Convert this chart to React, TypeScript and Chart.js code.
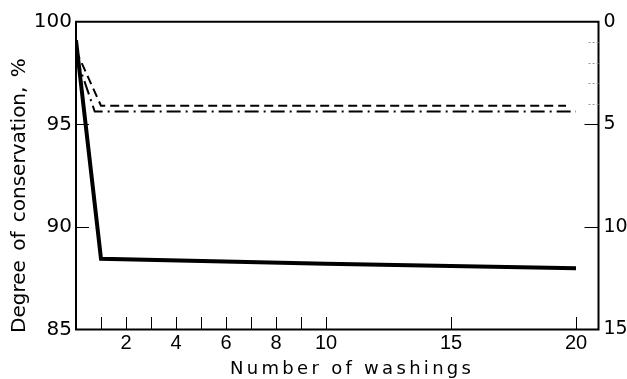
import React, { useEffect, useRef } from 'react';
import { Chart, registerables } from 'chart.js';

Chart.register(...registerables);

// ---- data ----
const solidX = [0, 1, 10, 20];
const solidY = [99.1, 88.45, 88.2, 87.98];
const dashedX = [0, 1, 19.6];
const dashedY = [98.6, 95.9, 95.9];
const dashDotX = [0, 0.75, 20];
const dashDotY = [98.3, 95.62, 95.62];

const xTickLabels = [2, 4, 6, 8, 10, 15, 20];
const xTickMarks = [1, 2, 3, 4, 5, 6, 7, 8, 9, 10, 15, 20];
const leftTickLabels = [85, 90, 95, 100];
const leftTickMarks = [90, 95];
const rightTickLabels = [0, 5, 10, 15];
const rightTickMarks = [5, 10];
const rightMinorMarks = [1, 2, 3, 4];

const xTitle = 'Number of washings';
const yTitle = 'Degree of conservation, %';

const toPoints = (xs: number[], ys: number[]) => xs.map((x, i) => ({ x, y: ys[i] }));

const framePlugin = {
  id: 'frameAndTitles',
  afterDraw(chart: any) {
    const { ctx, chartArea, scales } = chart;
    const { left, right, top, bottom } = chartArea;
    ctx.save();
    // frame
    ctx.strokeStyle = '#000';
    ctx.lineWidth = 2;
    ctx.beginPath();
    ctx.moveTo(left, top);
    ctx.lineTo(right, top);
    ctx.lineTo(right, bottom);
    ctx.lineTo(left, bottom);
    ctx.closePath();
    ctx.stroke();

    // inward tick marks
    ctx.lineWidth = 1;
    ctx.beginPath();
    xTickMarks.forEach((v) => {
      const px = Math.round(scales.x.getPixelForValue(v)) + 0.5;
      ctx.moveTo(px, bottom);
      ctx.lineTo(px, bottom - 12.5);
    });
    leftTickMarks.forEach((v) => {
      const py = Math.round(scales.y.getPixelForValue(v)) + 0.5;
      ctx.moveTo(left, py);
      ctx.lineTo(left + 13, py);
    });
    rightTickMarks.forEach((v) => {
      const py = Math.round(scales.y2.getPixelForValue(v)) + 0.5;
      ctx.moveTo(right, py);
      ctx.lineTo(right - 14, py);
    });
    ctx.stroke();
    ctx.strokeStyle = '#999';
    ctx.setLineDash([2, 2]);
    ctx.beginPath();
    rightMinorMarks.forEach((v) => {
      const py = Math.round(scales.y2.getPixelForValue(v)) + 0.5;
      ctx.moveTo(right, py);
      ctx.lineTo(right - 12, py);
    });
    ctx.stroke();
    ctx.setLineDash([]);

    // titles
    ctx.fillStyle = '#000';
    ctx.font = '18px "DejaVu Sans"';
    (ctx as any).letterSpacing = '3.3px';
    ctx.textAlign = 'left';
    ctx.textBaseline = 'alphabetic';
    ctx.fillText(xTitle, 230, 374);
    (ctx as any).letterSpacing = '0px';

    ctx.translate(25, 333);
    ctx.rotate(-Math.PI / 2);
    ctx.font = '20px "DejaVu Sans"';
    (ctx as any).wordSpacing = '3px';
    ctx.fillText(yTitle, 0, 0);
    ctx.restore();
  },
};

export default function App() {
  const ref = useRef<HTMLCanvasElement>(null);

  useEffect(() => {
    document.body.style.margin = '0';
    const canvas = ref.current;
    if (!canvas) return;
    const chart = new Chart(canvas, {
      type: 'line',
      data: {
        datasets: [
          {
            data: toPoints(solidX, solidY),
            borderColor: '#000',
            borderWidth: 4,
            pointRadius: 0,
            tension: 0,
            yAxisID: 'y',
          },
          {
            data: toPoints(dashedX, dashedY),
            borderColor: '#000',
            borderWidth: 2,
            borderDash: [9, 5],
            pointRadius: 0,
            tension: 0,
            yAxisID: 'y',
          },
          {
            data: toPoints(dashDotX, dashDotY),
            borderColor: '#000',
            borderWidth: 2,
            borderDash: [14, 5, 2, 5],
            pointRadius: 0,
            tension: 0,
            yAxisID: 'y',
          },
        ],
      },
      options: {
        responsive: false,
        animation: false,
        devicePixelRatio: 1,
        layout: { padding: { top: 21.7, left: 0, right: 0, bottom: 0 } },
        plugins: { legend: { display: false }, tooltip: { enabled: false } },
        scales: {
          x: {
            type: 'linear',
            min: 0,
            max: 20.9,
            grid: { display: false, drawTicks: false },
            border: { display: false },
            afterBuildTicks: (s: any) => {
              s.ticks = xTickLabels.map((v) => ({ value: v }));
            },
            afterFit: (s: any) => {
              s.height = 49.5;
            },
            ticks: {
              autoSkip: false,
              maxRotation: 0,
              padding: 2,
              color: '#000',
              font: { family: '"Liberation Sans"', size: 20 },
            },
          },
          y: {
            type: 'linear',
            position: 'left',
            min: 85,
            max: 100,
            grid: { display: false, drawTicks: false },
            border: { display: false },
            afterBuildTicks: (s: any) => {
              s.ticks = leftTickLabels.map((v) => ({ value: v }));
            },
            afterFit: (s: any) => {
              s.width = 76;
            },
            ticks: {
              padding: 4,
              color: '#000',
              font: { family: '"DejaVu Sans"', size: 20 },
            },
          },
          y2: {
            type: 'linear',
            position: 'right',
            min: 0,
            max: 15,
            reverse: true,
            grid: { display: false, drawTicks: false },
            border: { display: false },
            afterBuildTicks: (s: any) => {
              s.ticks = rightTickLabels.map((v) => ({ value: v }));
            },
            afterFit: (s: any) => {
              s.width = 28.5;
            },
            ticks: {
              padding: 5,
              color: '#000',
              font: { family: '"DejaVu Sans"', size: 19 },
            },
          },
        },
      },
      plugins: [framePlugin],
    });
    return () => chart.destroy();
  }, []);

  return (
    <div style={{ position: 'fixed', left: 0, top: 0, width: 627, height: 379, background: '#fff' }}>
      <canvas ref={ref} width={627} height={379} />
    </div>
  );
}
